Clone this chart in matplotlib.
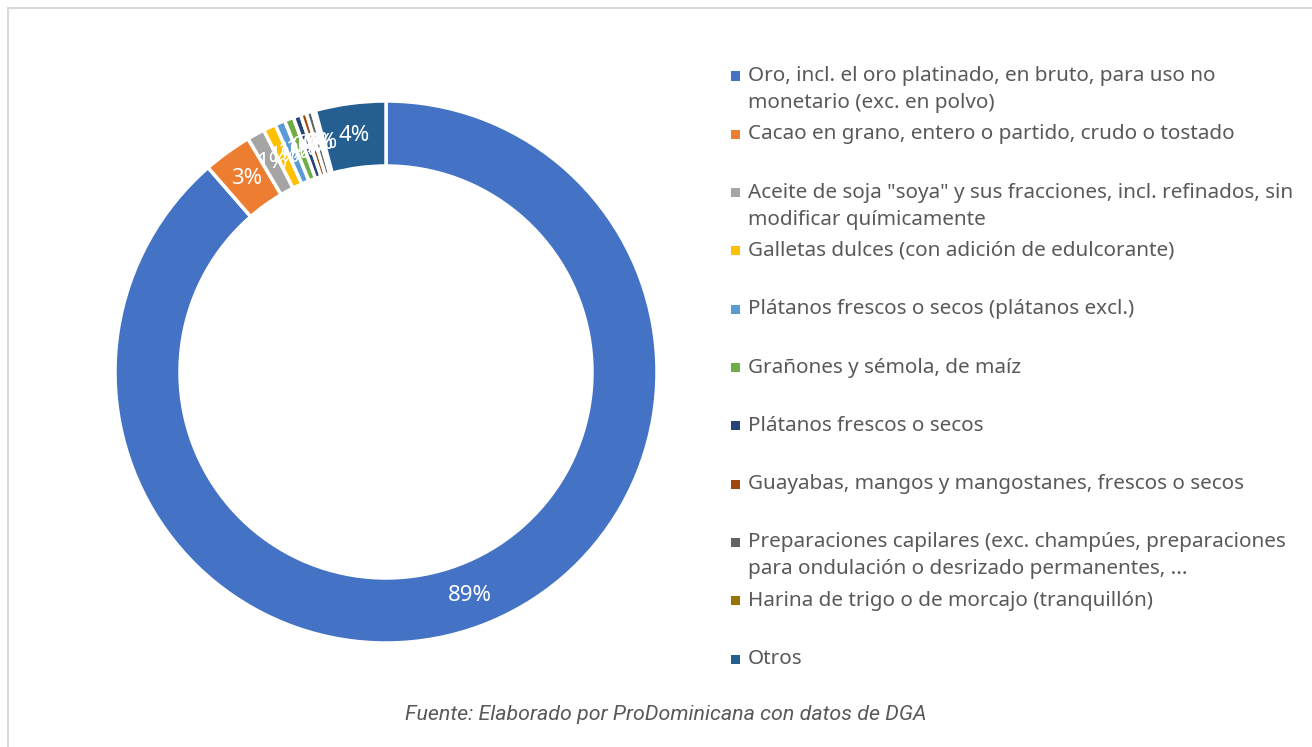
import matplotlib
matplotlib.use("Agg")
import matplotlib.pyplot as plt
from matplotlib.patches import Rectangle

# data (share of exports, %)
labels = [
    "Oro, incl. el oro platinado, en bruto, para uso no\nmonetario (exc. en polvo)",
    "Cacao en grano, entero o partido, crudo o tostado",
    "Aceite de soja \"soya\" y sus fracciones, incl. refinados, sin\nmodificar químicamente",
    "Galletas dulces (con adición de edulcorante)",
    "Plátanos frescos o secos (plátanos excl.)",
    "Grañones y sémola, de maíz",
    "Plátanos frescos o secos",
    "Guayabas, mangos y mangostanes, frescos o secos",
    "Preparaciones capilares (exc. champúes, preparaciones\npara ondulación o desrizado permanentes, ...",
    "Harina de trigo o de morcajo (tranquillón)",
    "Otros",
]
values = [88.6, 2.9, 1.05, 0.75, 0.6, 0.55, 0.45, 0.35, 0.35, 0.2, 4.2]
colors = ["#4472C4", "#ED7D31", "#A5A5A5", "#FFC000", "#5B9BD5", "#70AD47",
          "#264478", "#9E480E", "#636363", "#997300", "#255E91"]
source = "Fuente: Elaborado por ProDominicana con datos de DGA"

W, H = 1312, 747
fig = plt.figure(figsize=(W / 100, H / 100), dpi=100)

# light frame around the chart area
fig.add_artist(Rectangle((8 / W, -0.1), 1.2, (H - 8) / H + 0.1, transform=fig.transFigure,
                         fill=False, edgecolor="#D9D9D9", lw=1.5))

# donut
cx, cy, R = 386, 372, 271
pad = 1.05
ax = fig.add_axes([(cx - R * pad) / W, (H - cy - R * pad) / H, 2 * R * pad / W, 2 * R * pad / H])
wedges, texts, autotexts = ax.pie(
    values, colors=colors, startangle=90, counterclock=False,
    wedgeprops=dict(width=65 / R, edgecolor="white", linewidth=2.5),
    autopct=lambda p: f"{p:.0f}%", pctdistance=0.88,
    textprops=dict(color="white", fontsize=16, family="Noto Sans"))
ax.set_xlim(-pad, pad)
ax.set_ylim(-pad, pad)
ax.set_aspect("equal")
ax.axis("off")

# legend, one slot per entry
y0, step, lh = 76, 58.3, 27
for i, (lab, col) in enumerate(zip(labels, colors)):
    y = y0 + i * step
    fig.add_artist(Rectangle(((735 - 4.5) / W, (H - y - 4.5) / H), 9 / W, 9 / H,
                             transform=fig.transFigure, color=col, lw=0))
    for j, line in enumerate(lab.split("\n")):
        fig.text(748 / W, (H - y - j * lh) / H, line, ha="left", va="center",
                 fontsize=14.9, color="#595959", family="Noto Sans")

fig.text(666 / W, (H - 715) / H, source, ha="center", va="center",
         fontsize=15.4, style="italic", color="#595959", family="Roboto")

fig.savefig("out.png", dpi=100, facecolor="white")
